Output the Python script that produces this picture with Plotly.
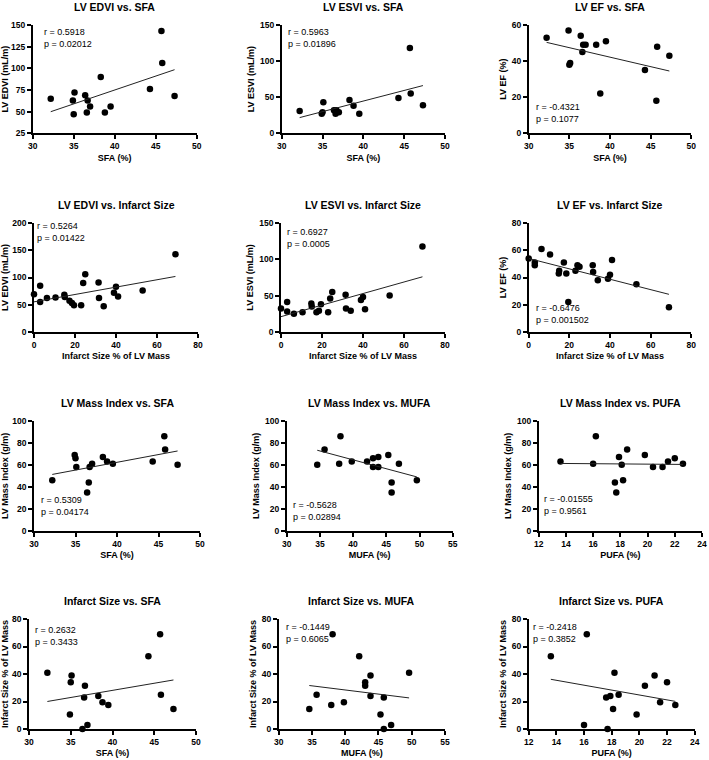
import numpy as np
import plotly.graph_objects as go

# ---- data ----
sfa = [32.2, 34.9, 35.0, 35.1, 36.4, 36.6, 36.7, 37.0, 38.3, 38.8, 39.5, 44.3, 45.7, 45.8, 47.3]
mufa = [34.6, 35.7, 37.9, 38.1, 39.8, 42.1, 43.0, 43.0, 43.8, 43.8, 45.3, 45.8, 45.8, 46.9, 49.6]
pufa = [13.6, 16.0, 16.2, 17.6, 17.7, 17.9, 18.1, 18.2, 18.5, 19.8, 20.4, 21.1, 21.5, 22.0, 22.6]
infarct_all = [0, 3, 3, 6.3, 10.5, 14.8, 15.0, 17.3, 18.5, 19.5, 23, 24, 25, 31.5, 31.7, 34, 39, 40, 41, 53, 69]

edvi_sfa = [65, 63, 47, 72, 69, 49, 63, 56, 90, 49, 56, 76, 143, 106, 68]
esvi_sfa = [31, 27, 29, 43, 32, 27, 32, 29, 46, 38, 27, 49, 118, 55, 39]
ef_sfa = [53, 57, 38, 39, 54, 45, 49, 49, 49, 22, 51, 35, 18, 48, 43]

edvi_inf = [69, 85, 55, 62, 63, 68, 64, 57, 53, 49, 49, 90, 106, 91, 62, 47, 72, 83, 65, 76, 143]
esvi_inf = [32, 41, 28, 25, 27, 39, 35, 27, 29, 38, 27, 46, 55, 51, 32, 29, 44, 48, 31, 50, 118]
ef_inf = [54, 51, 49, 61, 57, 43, 45, 51, 43, 22, 45, 49, 48, 49, 44, 38, 39, 42, 53, 35, 18]

lvmi_sfa = [46, 69, 66, 58, 35, 44, 58, 61, 67, 63, 61, 63, 86, 74, 60]
lvmi_mufa = [60, 74, 61, 86, 63, 63, 66, 58, 67, 58, 69, 44, 35, 61, 46]
lvmi_pufa = [63, 61, 86, 44, 35, 67, 60, 46, 74, 69, 58, 58, 63, 66, 61]

inf_sfa = [41, 10.5, 34, 39, 0, 23, 31.5, 3, 24, 19.5, 17.5, 53, 69, 25, 14.5]
inf_mufa = [14.5, 25, 17.5, 69, 19.5, 53, 34, 31.5, 39, 24, 10.5, 23, 0, 3, 41]
inf_pufa = [53, 3, 69, 23, 0, 24, 14.5, 41, 25, 10.5, 31.5, 39, 19.5, 34, 17.5]

titles = ["LV EDVI vs. SFA", "LV ESVI vs. SFA", "LV EF vs. SFA",
          "LV EDVI vs. Infarct Size", "LV ESVI vs. Infarct Size", "LV EF vs. Infarct Size",
          "LV Mass Index vs. SFA", "LV Mass Index vs. MUFA", "LV Mass Index vs. PUFA",
          "Infarct Size vs. SFA", "Infarct Size vs. MUFA", "Infarct Size vs. PUFA"]
stats = ["r = 0.5918<br>p = 0.02012", "r = 0.5963<br>p = 0.01896", "r = -0.4321<br>p = 0.1077",
         "r = 0.5264<br>p = 0.01422", "r = 0.6927<br>p = 0.0005", "r = -0.6476<br>p = 0.001502",
         "r = 0.5309<br>p = 0.04174", "r = -0.5628<br>p = 0.02894", "r = -0.01555<br>p = 0.9561",
         "r = 0.2632<br>p = 0.3433", "r = -0.1449<br>p = 0.6065", "r = -0.2418<br>p = 0.3852"]

W, H = 709, 760
FONT = "Liberation Sans"

# x, y, xrange, xdtick, yrange, ydtick, xtitle, ytitle, box(px: l, r, t, b), stat pos (x dom, y dom, yanchor)
panels = [
    (sfa, edvi_sfa, [30, 50], 5, [25, 150], 25, "SFA (%)", "LV EDVI (mL/m)", (32.7, 196.7, 25, 133.3), (0.055, 1.0, "top")),
    (sfa, esvi_sfa, [30, 50], 5, [0, 150], 50, "SFA (%)", "LV ESVI (mL/m)", (281.7, 445, 25, 133.3), (0.026, 1.0, "top")),
    (sfa, ef_sfa, [30, 50], 5, [0, 60], 20, "SFA (%)", "LV EF (%)", (528.7, 691.3, 25, 133.3), (0.03, 0.07, "bottom")),
    (infarct_all, edvi_inf, [0, 80], 20, [0, 200], 50, "Infarct Size % of LV Mass", "LV EDVI (mL/m)", (34, 198, 223.3, 331.7), (0.005, 1.04, "top")),
    (infarct_all, esvi_inf, [0, 80], 20, [0, 150], 50, "Infarct Size % of LV Mass", "LV ESVI (mL/m)", (281, 445, 223.3, 331.7), (0.026, 0.98, "top")),
    (infarct_all, ef_inf, [0, 80], 20, [0, 80], 20, "Infarct Size % of LV Mass", "LV EF (%)", (528.7, 691.3, 223.3, 331.7), (0.03, 0.04, "bottom")),
    (sfa, lvmi_sfa, [30, 50], 5, [0, 100], 20, "SFA (%)", "LV Mass Index (g/m)", (34, 200, 420.7, 531), (0.03, 0.106, "bottom")),
    (mufa, lvmi_mufa, [30, 55], 5, [0, 100], 20, "MUFA (%)", "LV Mass Index (g/m)", (286.7, 452.7, 420.7, 531), (0.026, 0.063, "bottom")),
    (pufa, lvmi_pufa, [12, 24], 2, [0, 100], 20, "PUFA (%)", "LV Mass Index (g/m)", (538.7, 702, 420.7, 531), (0.02, 0.115, "bottom")),
    (sfa, inf_sfa, [30, 50], 5, [0, 80], 20, "SFA (%)", "Infarct Size % of LV Mass", (29, 196, 619, 729), (0.026, 0.96, "top")),
    (mufa, inf_mufa, [30, 55], 5, [0, 80], 20, "MUFA (%)", "Infarct Size % of LV Mass", (278.7, 445, 619, 729), (0.03, 0.99, "top")),
    (pufa, inf_pufa, [12, 24], 2, [0, 80], 20, "PUFA (%)", "Infarct Size % of LV Mass", (528.7, 694.7, 619, 729), (0.016, 0.99, "top")),
]

fig = go.Figure()
layout = {}
annotations = []

for i, (xs, ys, xr, xd, yr, yd, xt, yt, box, spos) in enumerate(panels):
    n = i + 1
    xa = "x" if n == 1 else f"x{n}"
    ya = "y" if n == 1 else f"y{n}"
    l, r, t, b = box

    # points
    fig.add_trace(go.Scatter(x=xs, y=ys, mode="markers", xaxis=xa, yaxis=ya,
                             marker=dict(color="black", size=6.5), cliponaxis=False,
                             showlegend=False))
    # linear fit line
    k, c = np.polyfit(xs, ys, 1)
    lx = [min(xs), max(xs)]
    fig.add_trace(go.Scatter(x=lx, y=[k * v + c for v in lx], mode="lines", xaxis=xa, yaxis=ya,
                             line=dict(color="#222222", width=1), showlegend=False))

    axis_common = dict(showline=True, linecolor="black", linewidth=1.6, ticks="outside",
                       ticklen=4, tickwidth=1.6, tickcolor="black", showgrid=False,
                       zeroline=False, automargin=False,
                       tickfont=dict(family=FONT, size=8.5, color="black", weight="bold"))
    layout["xaxis" if n == 1 else f"xaxis{n}"] = dict(
        axis_common, domain=[l / W, r / W], anchor=ya, range=xr, dtick=xd, tick0=xr[0],
        title=dict(text=xt, font=dict(family=FONT, size=9, color="black", weight="bold"), standoff=4))
    layout["yaxis" if n == 1 else f"yaxis{n}"] = dict(
        axis_common, domain=[1 - b / H, 1 - t / H], anchor=xa, range=yr, dtick=yd, tick0=yr[0],
        title=dict(text=yt, font=dict(family=FONT, size=9, color="black", weight="bold"), standoff=4))

    # panel title
    annotations.append(dict(text=titles[i], x=(l + r) / 2 / W, y=1 - (t - 18) / H,
                            xref="paper", yref="paper", showarrow=False, xanchor="center", yanchor="middle",
                            font=dict(family=FONT, size=10.5, color="black", weight="bold")))
    # r / p text
    annotations.append(dict(text=stats[i], x=spos[0], y=spos[1], xref=f"{xa} domain", yref=f"{ya} domain",
                            showarrow=False, xanchor="left", yanchor=spos[2], align="left",
                            font=dict(family=FONT, size=9, color="black")))

fig.update_layout(**layout)
fig.update_layout(width=W, height=H, margin=dict(l=0, r=0, t=0, b=0),
                  plot_bgcolor="white", paper_bgcolor="white", annotations=annotations)

fig.write_html("out.html", config={"displayModeBar": False},
               post_script="document.body.style.margin='0';")
